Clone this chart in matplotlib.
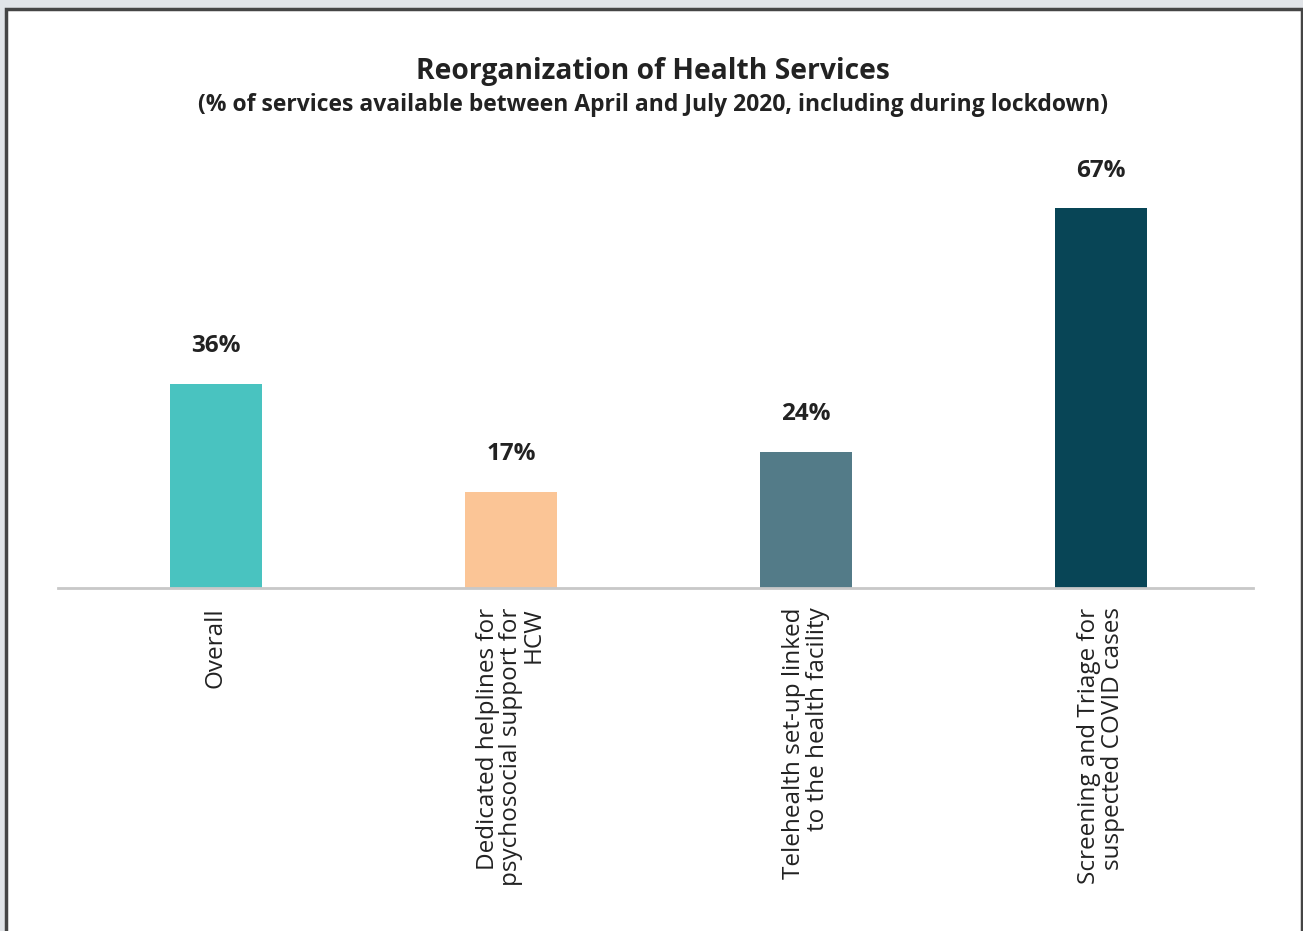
import matplotlib.pyplot as plt
from matplotlib.patches import Rectangle

# dados do gráfico
categorias = ['Overall',
              'Dedicated helplines for\npsychosocial support for\nHCW',
              'Telehealth set-up linked\nto the health facility',
              'Screening and Triage for\nsuspected COVID cases']
valores = [36, 17, 24, 67]
rotulos = ['36%', '17%', '24%', '67%']
cores = ['#49C3C0', '#FBC596', '#537B88', '#084556']

plt.rcParams['font.family'] = ['Open Sans', 'DejaVu Sans']

fig = plt.figure(figsize=(13.03, 9.31), dpi=100)
fig.patch.set_facecolor('#e1e4e8')

# painel branco com borda escura
painel = Rectangle((5.5 / 1303, -0.05), (1301.5 - 5.5) / 1303, 1.05 - 9.5 / 931,
                   transform=fig.transFigure, facecolor='white',
                   edgecolor='#454545', linewidth=2.5, zorder=0)
fig.add_artist(painel)

ax = fig.add_axes([58 / 1303, 1 - 588 / 931, (1253 - 58) / 1303, (588 - 140) / 931])
ax.set_facecolor('none')

x = list(range(len(valores)))
barras = ax.bar(x, valores, width=0.31, color=cores, zorder=2)

for xi, v, r in zip(x, valores, rotulos):
    ax.annotate(r, (xi, v), xytext=(0, 27), textcoords='offset points',
                ha='center', va='center', fontsize=17.5, fontweight='bold', color='#222222')

ax.set_xlim(-0.535, 3.515)
ax.set_ylim(0, 79)
ax.set_xticks(x)
ax.set_xticklabels(categorias, rotation=90, fontsize=17.5, color='#222222',
                   multialignment='right', linespacing=0.95)
ax.tick_params(axis='x', length=0, pad=14)
ax.set_yticks([])
for lado in ['top', 'right', 'left']:
    ax.spines[lado].set_visible(False)
ax.spines['bottom'].set_color('#c8c8c8')
ax.spines['bottom'].set_linewidth(2)

fig.text(0.501, 1 - 71 / 931, 'Reorganization of Health Services', ha='center', va='center',
         fontsize=20.3, fontweight='bold', color='#222222')
fig.text(0.501, 1 - 105 / 931,
         '(% of services available between April and July 2020, including during lockdown)',
         ha='center', va='center', fontsize=16.5, fontweight='bold', color='#222222')

plt.savefig('out.png', dpi=100)
